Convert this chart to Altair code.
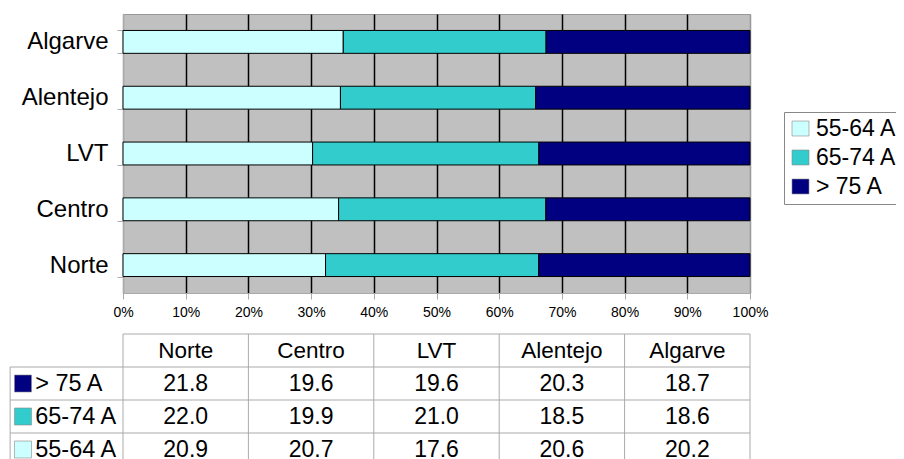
import altair as alt
import pandas as pd

regions = ["Norte", "Centro", "LVT", "Alentejo", "Algarve"]
groups = ["55-64 A", "65-74 A", "> 75 A"]
colors = ["#CCFFFF", "#33CCCC", "#000080"]
v_55_64 = [20.9, 20.7, 17.6, 20.6, 20.2]
v_65_74 = [22.0, 19.9, 21.0, 18.5, 18.6]
v_75 = [21.8, 19.6, 19.6, 20.3, 18.7]
table_rows = ["> 75 A", "65-74 A", "55-64 A"]
x_ticks = [i / 10 for i in range(11)]

FONT = "Liberation Sans"
W, H = 627, 279
PAD = {"left": 115, "top": 6, "right": 146, "bottom": 166}

# table layout (in scale units / pixels below the plot)
LABEL_COL = -0.18      # left border of the label column, in x-scale units
SQ_X = -0.1595         # centre of the colour key squares
TXT_X = -0.140         # start of the row labels
T_TOP = 320            # px from top of plot to top of table
ROW_H = 33             # px per table row
ROWS_SHOWN = 4
y_lo = -T_TOP / ROW_H
y_hi = y_lo + H / ROW_H

values = {"55-64 A": v_55_64, "65-74 A": v_65_74, "> 75 A": v_75}
n = len(regions)
recs = []
for gi, g in enumerate(groups):
    for ri, r in enumerate(regions):
        recs.append({"region": r, "group": g, "value": values[g][ri], "ord": gi,
                     "xc": (2 * ri + 1) / (2 * n),
                     "yc": table_rows.index(g) + 1.5})
df = pd.DataFrame(recs)

color_scale = alt.Scale(domain=groups, range=colors)

bars = alt.Chart(df).mark_bar(stroke="black", strokeWidth=1).encode(
    y=alt.Y("region:N", sort=regions[::-1],
            scale=alt.Scale(paddingInner=0.59, paddingOuter=0.295),
            axis=alt.Axis(title=None, labelFontSize=24, labelColor="black", labelFont=FONT,
                          tickBand="extent", tickSize=6, tickColor="#aaa",
                          domainColor="#aaa", labelPadding=9)),
    x=alt.X("value:Q", stack="normalize", scale=alt.Scale(domain=[0, 1], nice=False),
            axis=alt.Axis(values=x_ticks, format="%", title=None, grid=True,
                          gridColor={"condition": {"test": "datum.value <= 0 || datum.value >= 1",
                                                   "value": "#999"}, "value": "black"},
                          gridWidth=1.5, tickSize=6, tickColor="#aaa", domainColor="#aaa",
                          labelFlush=False,
                          labelFontSize=14, labelColor="black", labelFont=FONT, labelPadding=6)),
    color=alt.Color("group:N", scale=color_scale,
                    legend=alt.Legend(title=None, orient="none", legendX=661, legendY=98,
                                      symbolType="M-1,-0.88H1V0.88H-1Z", symbolSize=289,
                                      symbolStrokeColor="#888", symbolStrokeWidth=0.6,
                                      symbolOpacity=1,
                                      labelFontSize=23, labelFont=FONT, labelColor="black",
                                      padding=5, strokeColor="#888", fillColor="white",
                                      rowPadding=5, labelOffset=4)),
    order=alt.Order("ord:Q"),
)

# ---- data table under the chart ----
hlines = pd.DataFrame([{"x": 0, "x2": 1, "y": 0}] +
                      [{"x": LABEL_COL, "x2": 1, "y": k} for k in range(1, len(table_rows) + 1)])
vlines = pd.DataFrame([{"x": LABEL_COL, "y": 1, "y2": ROWS_SHOWN}] +
                      [{"x": k / n, "y": 0, "y2": ROWS_SHOWN} for k in range(n + 1)])
header = pd.DataFrame({"region": regions,
                       "xc": [(2 * i + 1) / (2 * n) for i in range(n)],
                       "yc": [0.5] * n})
rowlab = pd.DataFrame({"group": table_rows,
                       "yc": [i + 1.5 for i in range(len(table_rows))]})

xs = alt.Scale(domain=[0, 1], nice=False, zero=False)
ys = alt.Scale(domain=[y_lo, y_hi], reverse=True, nice=False, zero=False)

t_h = alt.Chart(hlines).mark_rule(color="#aaa", strokeWidth=1).encode(
    x=alt.X("x:Q", scale=xs, axis=None), x2="x2:Q",
    y=alt.Y("y:Q", scale=ys, axis=None))
t_v = alt.Chart(vlines).mark_rule(color="#aaa", strokeWidth=1).encode(
    x=alt.X("x:Q", scale=xs, axis=None),
    y=alt.Y("y:Q", scale=ys, axis=None), y2="y2:Q")
t_head = alt.Chart(header).mark_text(fontSize=22.5, font=FONT, color="black").encode(
    x=alt.X("xc:Q", scale=xs, axis=None), y=alt.Y("yc:Q", scale=ys, axis=None),
    text="region:N")
t_vals = alt.Chart(df).mark_text(fontSize=23, font=FONT, color="black").encode(
    x=alt.X("xc:Q", scale=xs, axis=None), y=alt.Y("yc:Q", scale=ys, axis=None),
    text=alt.Text("value:Q", format=".1f"))
t_sq = alt.Chart(rowlab).mark_square(size=289, opacity=1, stroke="#888", strokeWidth=0.6).encode(
    x=alt.X(datum=SQ_X, scale=xs, axis=None), y=alt.Y("yc:Q", scale=ys, axis=None),
    color=alt.Color("group:N", scale=color_scale, legend=None))
t_lab = alt.Chart(rowlab).mark_text(fontSize=23.5, font=FONT, color="black", align="left").encode(
    x=alt.X(datum=TXT_X, scale=xs, axis=None), y=alt.Y("yc:Q", scale=ys, axis=None),
    text="group:N")

table = alt.layer(t_h, t_v, t_head, t_vals, t_sq, t_lab)

chart = alt.layer(bars, table).resolve_scale(
    x="independent", y="independent"
).properties(
    width=W, height=H,
    autosize=alt.AutoSizeParams(type="none"),
    padding=PAD,
).configure(font=FONT).configure_view(fill="#C0C0C0", stroke="#999")

chart.save("out.html", embed_options={"renderer": "svg", "actions": False})
